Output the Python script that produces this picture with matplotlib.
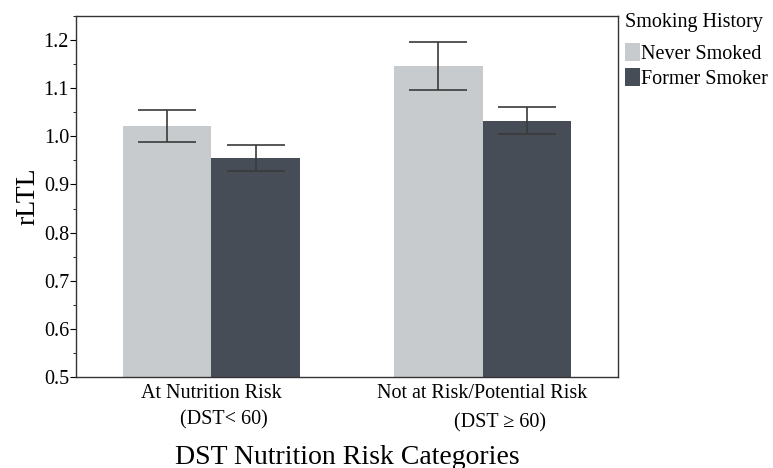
import matplotlib.pyplot as plt
import numpy as np
from matplotlib.ticker import MultipleLocator
from matplotlib.transforms import blended_transform_factory

plt.rcParams['font.family'] = ['Liberation Serif', 'DejaVu Serif']

categories = ['At Nutrition Risk', 'Not at Risk/Potential Risk']
subcats = ['(DST< 60)', '(DST \u2265 60)']
groups = ['Never Smoked', 'Former Smoker']
never_vals = [1.021, 1.146]
never_err = [0.033, 0.050]
former_vals = [0.955, 1.032]
former_err = [0.027, 0.028]

colors = ['#c8cbce', '#474d57']

fig = plt.figure(figsize=(7.73, 4.68), dpi=100)
ax = fig.add_axes([0.0983, 0.1944, 0.7012, 0.7714])

x = np.arange(len(categories))
w = 0.325
ax.bar(x - w / 2, never_vals, w, color=colors[0], label=groups[0])
ax.bar(x + w / 2, former_vals, w, color=colors[1], label=groups[1])
ekw = dict(fmt='none', ecolor='#3a3a3a', elinewidth=1.2, capsize=21, capthick=1.2)
ax.errorbar(x - w / 2, never_vals, yerr=never_err, **ekw)
ax.errorbar(x + w / 2, former_vals, yerr=former_err, **ekw)

ax.set_xlim(-0.5, 1.5)
ax.set_ylim(0.5, 1.25)
ax.yaxis.set_major_locator(MultipleLocator(0.1))
ax.yaxis.set_minor_locator(MultipleLocator(0.05))
ax.yaxis.set_major_formatter(plt.FuncFormatter(lambda v, p: f'{v:.1f}'))
ax.tick_params(axis='y', labelsize=14.5, length=4, width=0.8, pad=1)
ax.tick_params(axis='y', which='minor', length=2.5, width=0.6)
ax.set_xticks(x)
ax.set_xticklabels(categories, fontsize=14.5)
ax.tick_params(axis='x', length=0, pad=5)
for s in ax.spines.values():
    s.set_linewidth(1.0)
    s.set_color('#333333')

trans = blended_transform_factory(ax.transData, fig.transFigure)
offs = [0.045, 0.065]
ys = [1 - 420 / 468, 1 - 423 / 468]
for xi, lab, o, yy in zip(x, subcats, offs, ys):
    ax.text(xi + o, yy, lab, transform=trans, ha='center', va='center', fontsize=14.5)

ax.set_ylabel('rLTL', fontsize=20, labelpad=2)
ax.set_xlabel('DST Nutrition Risk Categories', fontsize=20)
ax.xaxis.set_label_coords(0.5, -(457 - 377) / 361)
ax.xaxis.label.set_va('center')

leg = ax.legend(loc='upper left', bbox_to_anchor=(0.998, 1.03), frameon=False,
                title='Smoking History', fontsize=14.5, title_fontsize=14.5,
                handlelength=0.75, handleheight=1.0, handletextpad=0.05,
                borderaxespad=0.2, borderpad=0.2, labelspacing=0.2, alignment='left')
# extra gap between the legend title and its entries
leg._legend_box.sep = 8

plt.savefig('out.png', dpi=100)
